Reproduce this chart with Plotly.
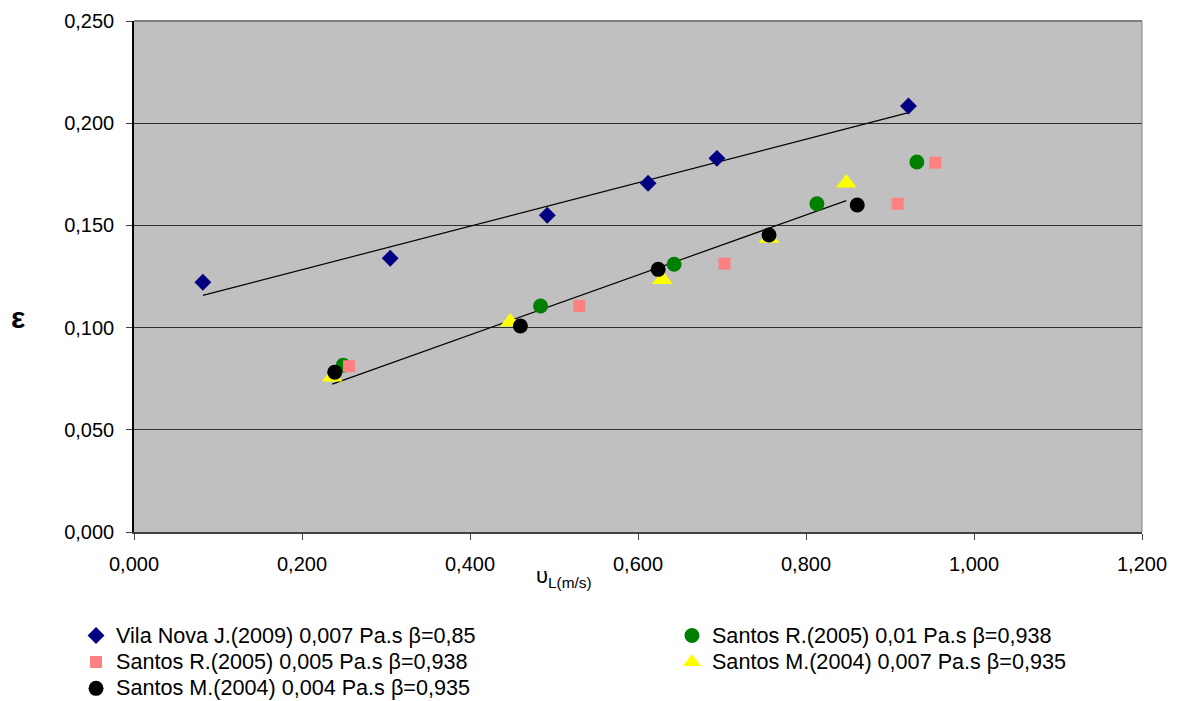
import numpy as np
import plotly.graph_objects as go

# ---- data ----
vila_x = [0.082, 0.305, 0.492, 0.612, 0.694, 0.922]
vila_y = [0.1222, 0.1339, 0.1550, 0.1706, 0.1828, 0.2084]

santosR01_x = [0.249, 0.484, 0.643, 0.813, 0.932]
santosR01_y = [0.0816, 0.1106, 0.1310, 0.1606, 0.1810]

santosR005_x = [0.256, 0.530, 0.703, 0.909, 0.954]
santosR005_y = [0.0811, 0.1106, 0.1313, 0.1606, 0.1807]

santosM007_x = [0.236, 0.448, 0.629, 0.756, 0.848]
santosM007_y = [0.0758, 0.1028, 0.1235, 0.1437, 0.1707]

santosM004_x = [0.239, 0.460, 0.624, 0.756, 0.861]
santosM004_y = [0.0782, 0.1008, 0.1285, 0.1453, 0.1600]

names = [
    "Vila Nova J.(2009) 0,007 Pa.s β=0,85",
    "Santos R.(2005) 0,01 Pa.s β=0,938",
    "Santos R.(2005) 0,005 Pa.s β=0,938",
    "Santos M.(2004) 0,007 Pa.s β=0,935",
    "Santos M.(2004) 0,004 Pa.s β=0,935",
]

x_ticks = [0.0, 0.2, 0.4, 0.6, 0.8, 1.0, 1.2]
y_ticks = [0.0, 0.05, 0.10, 0.15, 0.20, 0.25]

FONT = "Liberation Sans, Arial, sans-serif"

fig = go.Figure()

def trend(xs, ys):
    m, b = np.polyfit(xs, ys, 1)
    xx = np.array([min(xs), max(xs)])
    return xx, m * xx + b

for xs, ys in [(vila_x, vila_y), (santosM007_x, santosM007_y)]:
    tx, ty = trend(xs, ys)
    fig.add_trace(go.Scatter(x=tx, y=ty, mode="lines", line=dict(color="black", width=1.2),
                             showlegend=False, hoverinfo="skip"))

series = [
    (vila_x, vila_y, names[0], "diamond", "#000080", 13, "legend"),
    (santosR01_x, santosR01_y, names[1], "circle", "#008000", 15, "legend2"),
    (santosR005_x, santosR005_y, names[2], "square", "#FF8080", 12, "legend"),
    (santosM007_x, santosM007_y, names[3], "triangle-up", "#FFFF00", 18, "legend2"),
    (santosM004_x, santosM004_y, names[4], "circle", "#000000", 15, "legend"),
]
for i, (xs, ys, nm, sym, col, sz, lg) in enumerate(series):
    fig.add_trace(go.Scatter(x=xs, y=ys, mode="markers",
                             name="<span style='font-size:21.6px'>" + nm + "</span>",
                             marker=dict(symbol=sym, color=col, size=sz, line=dict(width=0)),
                             legend=lg, legendgroup=str(i)))

legend_common = dict(font=dict(family=FONT, size=18, color="black"), bgcolor="rgba(0,0,0,0)",
                     yanchor="top", xanchor="left", traceorder="grouped", tracegroupgap=0,
                     itemwidth=30)

fig.update_layout(
    width=1177, height=701,
    margin=dict(l=134, r=35, t=21, b=169, autoexpand=False),
    paper_bgcolor="white", plot_bgcolor="#C0C0C0",
    separators=",.",
    font=dict(family=FONT, size=20, color="black"),
    xaxis=dict(range=[0, 1.2], tickvals=x_ticks, tickformat=".3f", showgrid=False, zeroline=False,
               showline=True, linecolor="#404040", linewidth=1.5, ticks="outside", ticklen=6,
               tickcolor="#404040", ticklabelstandoff=7),
    yaxis=dict(range=[0, 0.25], tickvals=y_ticks, tickformat=".3f", showgrid=True, gridcolor="#303030",
               gridwidth=1, zeroline=False, showline=True, linecolor="black", linewidth=1.5,
               ticks="outside", ticklen=6, tickcolor="#404040", ticklabelstandoff=8),
    legend=dict(x=-0.0575, y=-0.167, **legend_common),
    legend2=dict(x=0.5337, y=-0.167, **legend_common),
    showlegend=True,
)

fig.add_shape(type="line", xref="paper", yref="paper", x0=0, x1=1, y0=1, y1=1,
              line=dict(color="#808080", width=2))
fig.add_shape(type="line", xref="paper", yref="paper", x0=1, x1=1, y0=0, y1=1,
              line=dict(color="#808080", width=1))

fig.add_annotation(text="<b>ε</b>", xref="paper", yref="paper", x=-0.115, y=0.42, showarrow=False,
                   font=dict(family=FONT, size=30, color="black"), xanchor="center", yanchor="middle")
fig.add_annotation(text="υ<sub>L(m/s)</sub>", xref="paper", yref="paper", x=0.427, y=-0.088,
                   showarrow=False, font=dict(family=FONT, size=22, color="black"),
                   xanchor="center", yanchor="middle")

fig.write_html("out.html")
